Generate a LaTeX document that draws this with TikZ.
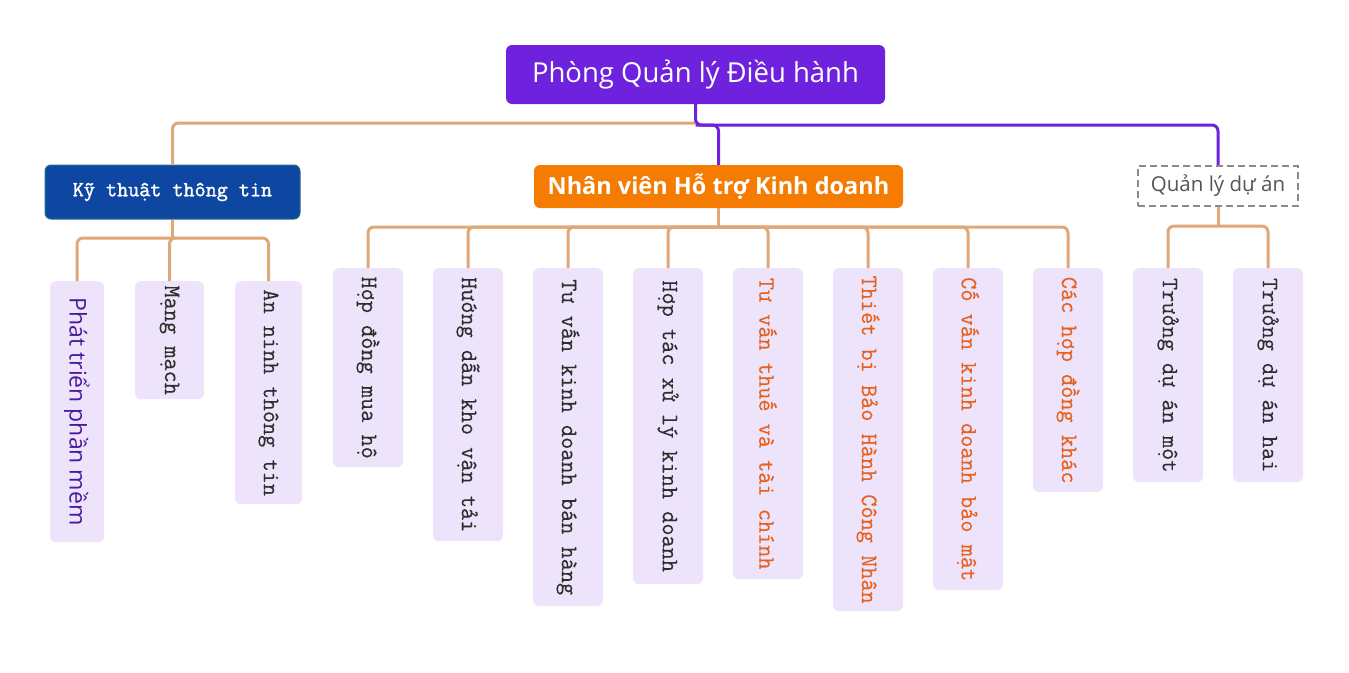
\documentclass[tikz,border=0pt]{standalone}
\usepackage{fontspec}
\setmainfont{Open Sans}
\newfontfamily\monof[FakeBold=0.3]{Latin Modern Mono}
\newfontfamily\monob[FakeBold=1.6]{Latin Modern Mono}
\newfontfamily\sansf{Open Sans}
\definecolor{rootc}{HTML}{6F22DD}
\definecolor{ktc}{HTML}{0D47A1}
\definecolor{ktb}{HTML}{2A6E8A}
\definecolor{nvc}{HTML}{F57C00}
\definecolor{tanc}{HTML}{E0A878}
\definecolor{leafbg}{HTML}{EDE4FB}
\definecolor{leaftx}{HTML}{2E2E2E}
\definecolor{qatx}{HTML}{555555}
\definecolor{leafor}{HTML}{E8601C}
\definecolor{leafpu}{HTML}{4A1A9E}
\definecolor{qagray}{HTML}{8A8A8A}
\tikzset{
  x=1pt,y=1pt,
  rootbox/.style={fill=rootc,rounded corners=6pt,text=white,font=\sansf\fontsize{27.5}{32}\selectfont,minimum width=379pt,minimum height=59pt,inner sep=0pt},
  ktbox/.style={fill=ktc,draw=ktb,line width=1pt,rounded corners=6pt,text=white,font=\monob\fontsize{21.5}{24}\selectfont,minimum width=255pt,minimum height=54pt,inner sep=0pt},
  nvbox/.style={fill=nvc,rounded corners=6pt,text=white,font=\sansf\bfseries\fontsize{23.5}{28}\selectfont,minimum width=369pt,minimum height=43pt,inner sep=0pt},
  qabox/.style={fill=white,draw=qagray,line width=2.2pt,dash pattern=on 7pt off 4pt,text=qatx,font=\sansf\fontsize{20.5}{24}\selectfont,minimum width=160pt,minimum height=40pt,inner sep=0pt},
  leaf/.style={fill=leafbg,rounded corners=6pt,rotate=-90,anchor=west,inner sep=0pt,minimum height=70pt,text=leaftx,font=\monof\fontsize{23.6}{26}\selectfont},
  leafo/.style={leaf,text=leafor},
  tl/.style={draw=tanc,line width=3pt,rounded corners=6pt},
  pl/.style={draw=rootc,line width=3pt,rounded corners=6pt},
}
\begin{document}
\begin{tikzpicture}
\useasboundingbox (0,0) rectangle (1349,-672);
\fill[white] (0,0) rectangle (1349,-672);
% main nodes
\node[rootbox] (root) at (695.5,-74.5) {Phòng Quản lý Điều hành};
\node[ktbox] (kt) at (172.5,-192) {Kỹ thuật thông tin};
\node[nvbox] (nv) at (718.5,-186.5) {Nhân viên Hỗ trợ Kinh doanh};
\node[qabox] (qa) at (1218,-186) {Quản lý dự án};
% leaves of kt
\node[leaf,minimum height=54pt,text=leafpu,font=\sansf\fontsize{23}{26}\selectfont,minimum width=261pt] (k1) at (77,-281) {Phát triển phần mềm};
\node[leaf,minimum height=69pt,minimum width=118pt] (k2) at (169.5,-281) {Mạng mạch};
\node[leaf,minimum height=67pt,minimum width=223pt] (k3) at (268.5,-281) {An ninh thông tin};
% leaves of nv
\node[leaf,minimum width=199pt] (n1) at (368,-268) {Hợp đồng mua hộ};
\node[leaf,minimum width=273pt] (n2) at (468,-268) {Hướng dẫn kho vận tải};
\node[leaf,minimum width=338pt] (n3) at (568,-268) {Tư vấn kinh doanh bán hàng};
\node[leaf,minimum width=316pt] (n4) at (668,-268) {Hợp tác xử lý kinh doanh};
\node[leafo,minimum width=311pt] (n5) at (768,-268) {Tư vấn thuế và tài chính};
\node[leafo,minimum width=343pt] (n6) at (868,-268) {Thiết bị Bảo Hành Công Nhân};
\node[leafo,minimum width=322pt] (n7) at (968,-268) {Cố vấn kinh doanh bảo mật};
\node[leafo,minimum width=224pt] (n8) at (1068,-268) {Các hợp đồng khác};
% leaves of qa
\node[leaf,minimum width=214pt] (q1) at (1168,-268) {Trưởng dự án một};
\node[leaf,minimum width=214pt] (q2) at (1268,-268) {Trưởng dự án hai};
% connectors from root
\coordinate (j0) at (695.5,-123);
\coordinate (j1) at (695.5,-125);
\draw[tl] (j0) -| (kt.north);
\draw[pl] (root.south) |- (qa.north |- j1) -- (qa.north);
\draw[pl] (j1) -| (nv.north);
% kt connectors
\coordinate (kj) at (172.5,-238);
\draw[tl] (kt.south) -- (kj);
\draw[tl] (kj) -| (k1.west);
\draw[tl] (kj) -| (k3.west);
\draw[tl] (kj) -| (k2.west);
% nv connectors
\coordinate (nj) at (718.5,-227);
\draw[tl] (nv.south) -- (nj);
\foreach \n in {n1,n2,n3,n4,n5,n6,n7,n8} {\draw[tl] (nj) -| (\n.west);}
% qa connectors
\coordinate (qj) at (1218,-226);
\draw[tl] (qa.south) -- (qj);
\draw[tl] (qj) -| (q1.west);
\draw[tl] (qj) -| (q2.west);
\end{tikzpicture}
\end{document}
